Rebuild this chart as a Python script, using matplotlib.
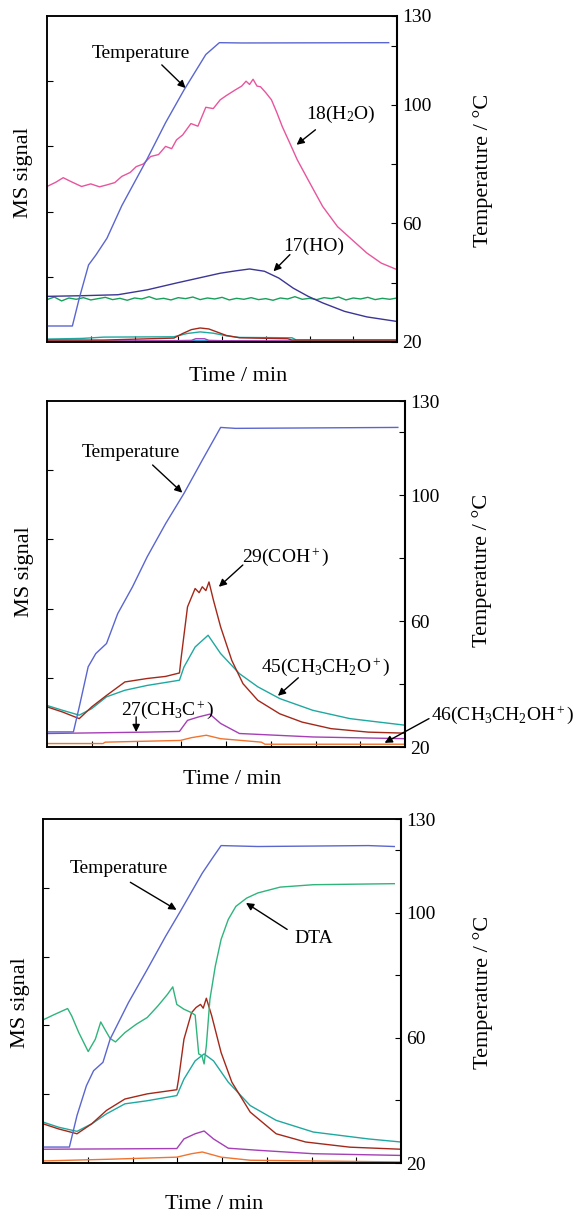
import numpy as np
import matplotlib
matplotlib.use("Agg")
import matplotlib.pyplot as plt

plt.rcParams['font.family'] = ['Liberation Serif', 'DejaVu Serif']
plt.rcParams['mathtext.fontset'] = 'custom'
plt.rcParams['mathtext.rm'] = 'Liberation Serif'
plt.rcParams['mathtext.it'] = 'Liberation Serif:italic'

# ---------------- colours ----------------
C_TEMP = '#5a66d0'
C_H2O = '#e8559c'
C_HO = '#3b3596'
C_GREEN = '#17a05a'
C_BROWN = '#a3281a'
C_TEAL = '#1fa8a0'
C_PURPLE = '#a43fb5'
C_ORANGE = '#f0742f'
C_CYAN = '#2f9fd8'
C_DTA = '#2fb47c'

# ---------------- panel 1: water ----------------
temp1_t = [0, 0.58, 0.74, 0.95, 1.12, 1.37, 1.71, 2.29, 2.71, 3.13, 3.63, 3.94, 4.46, 7.81]
temp1_v = [25.4, 25.4, 34.9, 46, 49.4, 55, 66, 81.8, 94, 105, 117, 121, 120.9, 121]

h2o_t = [0, 0.2, 0.37, 0.55, 0.79, 1.0, 1.2, 1.37, 1.55, 1.71, 1.9, 2.04, 2.2, 2.37, 2.55,
         2.71, 2.85, 2.96, 3.1, 3.29, 3.45, 3.63, 3.8, 3.96, 4.1, 4.3, 4.45, 4.55, 4.63, 4.71,
         4.8, 4.88, 5.0, 5.13, 5.25, 5.38, 5.55, 5.72, 5.97, 6.3, 6.64, 6.97, 7.31, 7.64, 8.0]
h2o_v = [47.7, 49.0, 50.4, 49.2, 47.7, 48.5, 47.6, 48.2, 48.9, 50.8, 52.0, 53.8, 54.6, 56.9, 57.5,
         60, 59.3, 62, 63.5, 67, 66.2, 72, 71.6, 74.3, 75.6, 77.3, 78.5, 80, 79.0, 80.6,
         78.5, 78.3, 76.5, 74.3, 70.5, 66, 61, 55.9, 49.7, 41.6, 35.4, 31.4, 27.3, 24.2, 22.2]

ho_t = [0, 0.8, 1.62, 2.29, 2.96, 3.46, 3.96, 4.3, 4.63, 4.97, 5.3, 5.63, 5.97, 6.3, 6.8, 7.31, 8.0]
ho_v = [14, 14.2, 14.5, 16, 18.1, 19.6, 21.1, 21.8, 22.4, 21.7, 19.6, 16.5, 14, 12, 9.4, 7.7, 6.3]

green1_v = [13.0, 13.8, 12.6, 13.5, 13.1, 13.6, 12.9, 13.3, 13.7, 13.0, 13.4, 12.8, 13.5, 13.2,
            13.9, 13.1, 13.4, 12.9, 13.6, 13.3, 13.8, 13.0, 13.5, 13.2, 13.7, 12.9, 13.4, 13.1,
            13.6, 13.0, 13.3, 12.8, 13.5, 13.2, 13.9, 13.1, 13.4, 13.0, 13.6, 13.3, 13.8, 12.9,
            13.5, 13.2, 13.7, 13.0, 13.4, 13.1, 13.5]

brown1_t = [0, 1.3, 2.9, 3.1, 3.3, 3.5, 3.7, 3.9, 4.1, 4.4, 5.5, 5.6, 8]
brown1_v = [0.6, 0.6, 1.2, 2.6, 3.8, 4.3, 4.0, 3.0, 2.0, 1.3, 1.0, 0.6, 0.6]
teal1_t = [0, 0.8, 1.3, 2.9, 3.2, 3.5, 3.8, 4.1, 4.4, 5.6, 5.7, 8]
teal1_v = [0.9, 1.1, 1.5, 1.6, 2.6, 3.1, 2.7, 1.9, 1.4, 1.3, 0.6, 0.6]
purple1_t = [0, 2.9, 3.3, 3.4, 3.6, 3.7, 4.0, 8]
purple1_v = [0.3, 0.4, 0.5, 1.0, 1.0, 0.5, 0.4, 0.3]
cyan1_t = [0, 3.1, 3.3, 3.8, 4.0, 8]
cyan1_v = [0.1, 0.1, 0.4, 0.4, 0.1, 0.1]

# ---------------- panel 2: ethanol fragments ----------------
temp2_t = [0, 0.59, 0.72, 0.92, 1.09, 1.33, 1.58, 1.91, 2.24, 2.65, 3.06, 3.47, 3.88, 4.21, 7.84]
temp2_v = [24.8, 24.8, 32.7, 45.5, 49.7, 52.9, 62.4, 70.9, 80.5, 91, 100.6, 111.2, 121.6, 121.3, 121.6]

coh2_t = [0, 0.35, 0.72, 1.0, 1.33, 1.74, 2.24, 2.65, 2.96, 3.0, 3.14, 3.31, 3.4, 3.47, 3.55,
          3.62, 3.72, 3.88, 4.13, 4.38, 4.71, 5.2, 5.7, 6.35, 7.18, 8.0]
coh2_v = [11.6, 10.1, 8.2, 11.6, 14.9, 18.8, 19.8, 20.4, 21.4, 26, 40.5, 45.8, 44.6, 46.3, 45.2,
          47.7, 42.4, 34.7, 25, 18.3, 13.5, 9.6, 7.2, 5.3, 4.3, 4.0]
eto2_t = [0, 0.35, 0.72, 1.0, 1.33, 1.74, 2.24, 2.96, 3.06, 3.31, 3.6, 3.88, 4.3, 4.71, 5.2,
          5.94, 6.77, 8.0]
eto2_v = [12, 10.6, 9.2, 11.1, 14.5, 16.4, 17.8, 19.3, 23.1, 28.9, 32.3, 27, 21.2, 17.4, 14,
          10.6, 8.2, 6.3]
ch3c2_t = [0, 2.24, 2.96, 3.14, 3.39, 3.64, 3.88, 4.3, 5.94, 8.0]
ch3c2_v = [3.9, 4.3, 4.5, 7.7, 8.7, 9.5, 6.8, 3.9, 2.9, 2.4]
etoh2_t = [0, 1.25, 1.3, 2.98, 3.23, 3.56, 3.88, 4.79, 4.87, 8.0]
etoh2_v = [1.0, 1.0, 1.4, 1.9, 2.7, 3.4, 2.4, 1.4, 0.8, 0.8]

# ---------------- panel 3: fragments with DTA ----------------
temp3_t = [0, 0.59, 0.76, 0.97, 1.13, 1.34, 1.5, 1.91, 2.33, 2.74, 3.07, 3.56, 3.81, 3.98, 4.8, 7.27, 7.85]
temp3_v = [25.1, 25.1, 35.2, 44.7, 49.5, 52.2, 59.6, 71.3, 81.9, 92.5, 100.5, 112.7, 118, 121.5, 121.2, 121.5, 121.2]

dta_t = [0, 0.26, 0.55, 0.64, 0.8, 1.01, 1.17, 1.29, 1.38, 1.5, 1.62, 1.83, 2.08, 2.33, 2.57,
         2.78, 2.9, 2.99, 3.15, 3.32, 3.4, 3.48, 3.55, 3.6, 3.65, 3.73, 3.85, 3.98, 4.14, 4.31,
         4.55, 4.8, 5.3, 6.04, 7.85]
dta_v = [41.6, 43.2, 44.9, 42.8, 37.9, 32.4, 36, 41, 38.9, 36.2, 35.2, 37.9, 40.3, 42.3, 45.7,
         49, 51.2, 46.1, 44.7, 43.7, 43, 31.7, 31.2, 28.8, 34.1, 47.6, 57.2, 65, 70.8, 74.6,
         77, 78.5, 80.2, 80.9, 81.2]

coh3_t = [0, 0.35, 0.76, 1.09, 1.42, 1.83, 2.33, 2.99, 3.03, 3.15, 3.32, 3.42, 3.52, 3.58, 3.65,
          3.77, 3.98, 4.22, 4.63, 5.21, 5.87, 6.86, 8.0]
coh3_v = [11.4, 9.9, 8.5, 11.4, 15.3, 18.6, 20.1, 21.3, 24.4, 36, 43.7, 45.2, 46.1, 45.0, 47.9,
          42.8, 32.1, 23.5, 14.8, 8.5, 6.1, 4.6, 4.0]
eto3_t = [0, 0.35, 0.76, 1.09, 1.42, 1.83, 2.33, 2.99, 3.15, 3.4, 3.6, 3.81, 4.14, 4.63, 5.21,
          6.04, 7.27, 8.0]
eto3_v = [11.9, 10.4, 9.2, 11.4, 14.3, 17.2, 18.1, 19.6, 24.4, 29.7, 31.7, 29.7, 23.5, 16.7, 12.4,
          9, 7, 6.1]
ch3c3_t = [0, 2.99, 3.15, 3.4, 3.6, 3.81, 4.14, 4.8, 6.04, 8.0]
ch3c3_v = [4.0, 4.2, 7.0, 8.5, 9.3, 7.0, 4.3, 3.7, 2.7, 2.2]
etoh3_t = [0, 1.5, 2.99, 3.32, 3.56, 3.98, 4.63, 8.0]
etoh3_v = [0.6, 1.1, 1.7, 2.7, 3.2, 1.7, 0.8, 0.3]

# right-axis scale
TEMP_MAJOR = [20, 60, 100, 130]
TEMP_MINOR = [40, 80, 120]

FIG_W, FIG_H = 577, 1216
fig = plt.figure(figsize=(FIG_W / 100, FIG_H / 100), dpi=100)


def make_panel(box, ylab_x, ylab_y, tlab_x, tlab_y, xlab_x, xlab_y):
    x0, y0, x1, y1 = box
    ax = fig.add_axes([x0 / FIG_W, 1 - y1 / FIG_H, (x1 - x0) / FIG_W, (y1 - y0) / FIG_H])
    tx = ax.twinx()
    ax.set_xlim(0, 8)
    ax.set_ylim(0, 100)
    tx.set_ylim(20, 130)
    ax.set_xticks(range(1, 8))
    ax.set_yticks([20, 40, 60, 80])
    ax.tick_params(direction='in', length=4, width=0.8, labelleft=False, labelbottom=False,
                   top=False, right=False)
    tx.set_yticks(TEMP_MAJOR)
    tx.set_yticks(TEMP_MINOR, minor=True)
    tx.tick_params(axis='y', which='both', direction='in', length=4, width=0.8,
                   labelsize=14, pad=4)
    for sp in list(ax.spines.values()) + list(tx.spines.values()):
        sp.set_linewidth(1.1)
    tx.spines['right'].set_linewidth(1.5)
    ax.set_ylabel('MS signal', fontsize=16)
    ax.yaxis.set_label_coords(ylab_x, ylab_y)
    ax.yaxis.label.set_verticalalignment('center')
    tx.set_ylabel('Temperature / °C', fontsize=16)
    tx.yaxis.set_label_coords(tlab_x, tlab_y)
    tx.yaxis.label.set_verticalalignment('center')
    tx.yaxis.label.set_rotation(90)
    ax.set_xlabel('Time / min', fontsize=16)
    ax.xaxis.set_label_coords(xlab_x, xlab_y)
    ax.xaxis.label.set_verticalalignment('center')
    return ax, tx


def label(ax, text, pos, start, tip):
    ax.text(*pos, text, transform=ax.transAxes, ha='center', va='center', fontsize=14)
    ax.annotate('', xy=tip, xytext=start, xycoords='axes fraction', textcoords='axes fraction',
                arrowprops=dict(arrowstyle='-|>', color='black', lw=1.0,
                                mutation_scale=11, shrinkA=0, shrinkB=0),
                annotation_clip=False)


LW = 1.0

# ---- panel 1 ----
ax1, tx1 = make_panel((47, 16, 397, 342), -0.066, 0.52, 1.246, 0.525, 0.545, -0.106)
ax1.plot(np.linspace(0, 8, len(green1_v)), green1_v, color=C_GREEN, lw=LW)
ax1.plot(h2o_t, h2o_v, color=C_H2O, lw=LW)
ax1.plot(ho_t, ho_v, color=C_HO, lw=LW)
ax1.plot(cyan1_t, cyan1_v, color=C_CYAN, lw=LW)
ax1.plot(purple1_t, purple1_v, color=C_PURPLE, lw=LW)
ax1.plot(teal1_t, teal1_v, color=C_TEAL, lw=LW)
ax1.plot(brown1_t, brown1_v, color=C_BROWN, lw=LW)
tx1.plot(temp1_t, temp1_v, color=C_TEMP, lw=LW)
label(ax1, 'Temperature', (0.269, 0.886), (0.328, 0.85), (0.396, 0.779))
label(ax1, '18(H$_2$O)', (0.84, 0.697), (0.767, 0.651), (0.713, 0.605))
label(ax1, '17(HO)', (0.762, 0.293), (0.694, 0.268), (0.647, 0.217))

# ---- panel 2 ----
ax2, tx2 = make_panel((47, 401, 405, 747), -0.064, 0.507, 1.216, 0.51, 0.517, -0.095)
ax2.plot(etoh2_t, etoh2_v, color=C_ORANGE, lw=LW)
ax2.plot(ch3c2_t, ch3c2_v, color=C_PURPLE, lw=LW)
ax2.plot(eto2_t, eto2_v, color=C_TEAL, lw=LW)
ax2.plot(coh2_t, coh2_v, color=C_BROWN, lw=LW)
tx2.plot(temp2_t, temp2_v, color=C_TEMP, lw=LW)
label(ax2, 'Temperature', (0.234, 0.85), (0.295, 0.815), (0.378, 0.735))
label(ax2, '29(COH$^+$)', (0.666, 0.55), (0.547, 0.526), (0.48, 0.463))
label(ax2, '45(CH$_3$CH$_2$O$^+$)', (0.779, 0.231), (0.702, 0.2), (0.645, 0.148))
label(ax2, '27(CH$_3$C$^+$)', (0.336, 0.106), (0.249, 0.087), (0.249, 0.043))
label(ax2, '46(CH$_3$CH$_2$OH$^+$)', (1.273, 0.092), (1.067, 0.082), (0.943, 0.012))

# ---- panel 3 ----
ax3, tx3 = make_panel((43, 819, 401, 1163), -0.063, 0.465, 1.23, 0.497, 0.478, -0.122)
ax3.plot(etoh3_t, etoh3_v, color=C_ORANGE, lw=LW)
ax3.plot(ch3c3_t, ch3c3_v, color=C_PURPLE, lw=LW)
ax3.plot(eto3_t, eto3_v, color=C_TEAL, lw=LW)
ax3.plot(coh3_t, coh3_v, color=C_BROWN, lw=LW)
ax3.plot(dta_t, dta_v, color=C_DTA, lw=LW)
tx3.plot(temp3_t, temp3_v, color=C_TEMP, lw=LW)
label(ax3, 'Temperature', (0.213, 0.855), (0.244, 0.816), (0.373, 0.736))
label(ax3, 'DTA', (0.755, 0.652), (0.682, 0.679), (0.567, 0.756))

fig.savefig('out.png', dpi=100)
